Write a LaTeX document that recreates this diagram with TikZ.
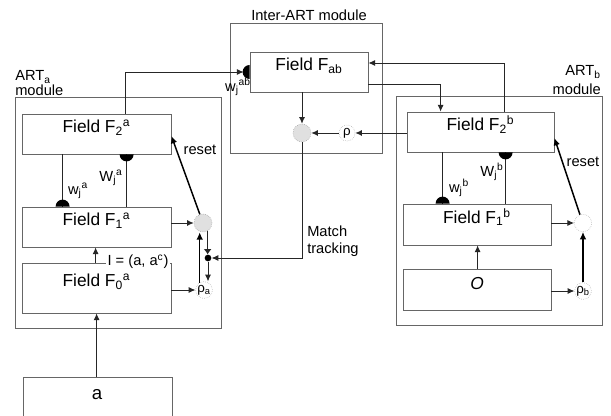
\documentclass[tikz,border=0pt]{standalone}
\usepackage{fontspec}
\usepackage{amsmath}
\setmainfont{Liberation Sans}
\usetikzlibrary{arrows.meta,fit,calc}
\newcommand{\SbSp}[2]{$_{\text{#1}}{}^{\text{#2}}$}
\begin{document}
\begin{tikzpicture}[x=0.75pt,y=-0.75pt,
  box/.style={draw=black!60,line width=0.6pt,inner sep=0pt},
  frame/.style={draw=black!60,line width=0.6pt},
  fld/.style={box,font=\fontsize{13}{15}\selectfont},
  lab/.style={font=\fontsize{11}{13}\selectfont,inner sep=0pt},
  ln/.style={draw=black!85,line width=0.7pt},
  arr/.style={ln,-{Latex[length=5pt,width=4.5pt]}},
  tarr/.style={draw=black,line width=1.1pt,-{Latex[length=5.5pt,width=5pt]}},
  orient/.style={circle,draw=black!40,densely dotted,fill=black!12,minimum size=13.5pt,inner sep=0pt},
  vig/.style={circle,draw=black!35,densely dotted,minimum size=12pt,inner sep=0pt,font=\fontsize{10}{12}\selectfont},
  hd/.style={fill=black}
]
\useasboundingbox (0,0) rectangle (611,416);
\fill[white] (0,0) rectangle (611,416);

% module frames
\draw[frame] (15,97) rectangle (221,328);
\draw[frame] (230,23) rectangle (382,153);
\draw[frame] (396,96) rectangle (602,325);
\node[lab,anchor=base west] (labA1) at (15,81) {ART$_{\text{a}}$};
\node[lab,anchor=base west] (labA2) at (15,96) {module};
\node[lab,anchor=base east] (labB1) at (601,76) {ART$_{\text{b}}$};
\node[lab,anchor=base east] (labB2) at (601,95) {module};
\node[lab,anchor=base] (labI) at (309,21) {Inter-ART module};

% fields
\node[fld,fit={(22,114) (171,154)}] (F2a) {Field F\SbSp{2}{a}};
\node[fld,fit={(22,207) (171,247)}] (F1a) {Field F\SbSp{1}{a}};
\node[fld,fit={(22,263) (171,313)}] (F0a) {Field F\SbSp{0}{a}};
\begin{scope}
\clip (0,0) rectangle (611,416);
\node[box,fit={(23,377) (172,430)}] (Ain) {};
\end{scope}
\node[font=\fontsize{14}{16}\selectfont] (atext) at (97,395) {a};
\node[fld,fit={(250,52) (368,92)}] (Fab) {Field F$_{\text{ab}}$};
\node[fld,fit={(407,112) (554,152)}] (F2b) {Field F\SbSp{2}{b}};
\node[fld,fit={(403,204) (551,245)}] (F1b) {Field F\SbSp{1}{b}};
\node[fld,fit={(403,269) (551,310)}] (Ob) {\itshape O};

% circles
\node[orient] (ca) at (203,223) {};
\node[vig] (ra) at (204,290) {ρ$_{\text{a}}$};
\node[orient] (cab) at (302,133) {};
\node[vig] (rab) at (347,133) {ρ};
\node[vig,minimum size=13pt] (cb) at (583,223) {};
\node[vig] (rb) at (583,291) {ρ$_{\text{b}}$};
\node[circle,fill=black,inner sep=0pt,minimum size=5pt] (jn) at (208,258) {};

% ARTa
\draw[ln] ($(F2a.south west)+(41,0)$) -- ($(F1a.north west)+(41,0)$);
\fill[hd] ($(F1a.north west)+(41,0)$) ++(-5.25pt,0) arc[start angle=180,end angle=0,radius=5.25pt] -- cycle;
\draw[ln] ($(F1a.north west)+(105,0)$) -- ($(F2a.south west)+(105,0)$);
\fill[hd] ($(F2a.south west)+(105,0)$) ++(-5.25pt,0) arc[start angle=180,end angle=360,radius=5.25pt] -- cycle;
\node[lab] (wa) at (78,191) {w\SbSp{j}{a}};
\node[lab] (Wa) at (111,178) {W\SbSp{j}{a}};
\draw[arr] ($(F0a.north west)+(74,0)$) -- ($(F1a.south west)+(74,0)$);
\node[lab,fill=white,inner sep=1pt] (Ilab) at (138,262) {I = (a, a$^{\text{c}}$)};
\draw[arr] ($(Ain.north west)+(74,0)$) -- ($(F0a.south west)+(75,0)$);
\draw[arr] (F1a.east |- ca.west) -- (ca.west);
\draw[tarr] (ca.110) -- ($(F2a.east)+(0,2)$);
\node[lab] (resa) at (200,150) {reset};
\draw[arr] (F0a.east |- ra.west) -- (ra.west);
\draw[tarr] (ra.120) -- (ra.120 |- ca.south);
\draw[ln,line width=1pt,-{Latex[length=4pt,width=6pt]}] (ca.-60) -- (ca.-60 |- jn.north);
\draw[arr] (jn.south) -- (jn.south |- ra.north);

% Inter-ART
\draw[arr,shorten >=4.5pt] ($(F2a.north west)+(104,0)$) |- (Fab.west);
\fill[hd] (Fab.west) ++(0,5.25pt) arc[start angle=90,end angle=270,radius=5.25pt] -- cycle;
\node[lab] (wab) at (238,87) {w\SbSp{j}{ab}};
\draw[arr] (Fab.south -| cab) -- (cab.north);
\draw[arr] (rab.west) -- (cab.east);
\draw[arr] (F2b.west |- rab.east) -- (rab.east);
\draw[arr] (cab.south) |- (jn.east);
\node[lab,align=left,anchor=west] (mt) at (307,241) {Match\\tracking};
\draw[arr] ($(F2b.north west)+(98,0)$) |- ($(Fab.east)+(0,-9)$);
\draw[arr] ($(Fab.east)+(0,12)$) -| ($(F2b.north west)+(34,0)$);

% ARTb
\draw[ln] ($(F2b.south west)+(36,0)$) -- ($(F1b.north west)+(40,0)$);
\fill[hd] ($(F1b.north west)+(40,0)$) ++(-5.25pt,0) arc[start angle=180,end angle=0,radius=5.25pt] -- cycle;
\draw[ln] ($(F1b.north west)+(103,0)$) -- ($(F2b.south west)+(99,0)$);
\fill[hd] ($(F2b.south west)+(99,0)$) ++(-5.25pt,0) arc[start angle=180,end angle=360,radius=5.25pt] -- cycle;
\node[lab] (wb) at (459,188) {w\SbSp{j}{b}};
\node[lab] (Wb) at (492,172) {W\SbSp{j}{b}};
\draw[arr] ($(Ob.north west)+(75,0)$) -- ($(F1b.south west)+(75,0)$);
\draw[arr] (F1b.east |- cb.west) -- (cb.west);
\draw[tarr] (cb.110) -- ($(F2b.east)+(0,6)$);
\node[lab] (resb) at (583,162) {reset};
\draw[arr] (Ob.east |- rb.west) -- (rb.west);
\draw[tarr] (rb.north) -- (cb.south);
\end{tikzpicture}
\end{document}
